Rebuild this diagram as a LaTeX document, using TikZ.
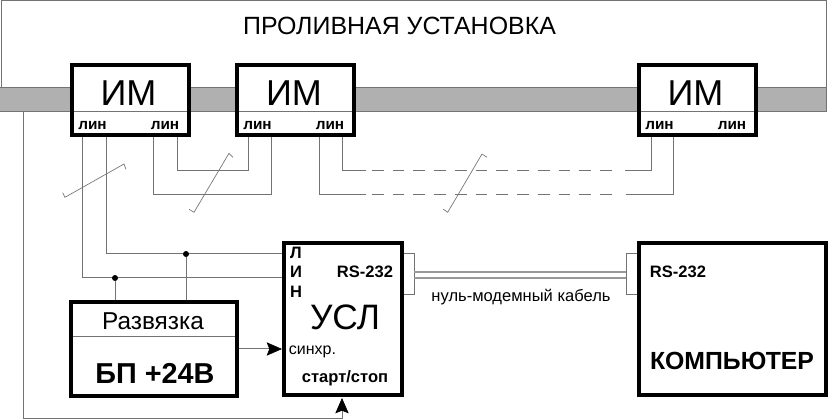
\documentclass[tikz,border=0pt]{standalone}
\usepackage{fontspec}
\setmainfont{Liberation Sans}
\usetikzlibrary{arrows.meta}
\definecolor{bandgray}{RGB}{176,176,176}
\definecolor{wiregray}{RGB}{115,115,115}
\tikzset{
  block/.style={draw=black,line width=3.2pt,fill=white,inner sep=0pt,anchor=north west},
  imblock/.style={block,minimum width=87.5pt,minimum height=52.3pt},
  wire/.style={draw=wiregray,line width=0.75pt},
  brokenwire/.style={wire,dash pattern=on 8.8pt off 6.75pt},
  cablewire/.style={draw=gray!80,line width=1pt},
  breakmark/.style={draw=wiregray,line width=0.5pt},
  divider/.style={wire,shorten >=3.2pt,shorten <=3.2pt},
  feed/.style={wire,-{Stealth[length=11.5pt,width=10pt,inset=2pt,color=black,fill=black,line width=0.5pt]}},
  jointdot/.style={circle,fill=black,inner sep=0pt,minimum size=4.5pt},
  txt/.style={inner sep=0pt,anchor=base},
  lin/.style={txt,font=\fontsize{11.5pt}{13pt}\selectfont\bfseries},
  small/.style={txt,font=\fontsize{12.4pt}{14pt}\selectfont\bfseries},
  im/.style={txt,font=\fontsize{27pt}{30pt}\selectfont},
}
\begin{document}
\begin{tikzpicture}[x=0.75pt,y=0.75pt,yscale=-1,xscale=1]
\useasboundingbox (0,0) rectangle (829,420);

%Shape: frame and band
\draw [wire] (1,112) -- (1,0.5) -- (826,0.5) -- (826,112);
\draw [wire,fill=bandgray] (0,88) -- (826,88) -- (826,112) -- (0,112);

% Title
\node (title) [txt,font=\fontsize{18.7pt}{20pt}\selectfont] at (399.5,35) {ПРОЛИВНАЯ УСТАНОВКА};

%Shape: blocks
\node (im1) [imblock] at (70,63) {};
\node (im2) [imblock] at (235,63) {};
\node (im3) [imblock] at (637,63) {};
\node (usl) [block,minimum width=88.3pt,minimum height=113.8pt] at (282,241) {};
\node (sync) [block,minimum width=124.3pt,minimum height=70.3pt] at (69,300) {};
\node (pc) [block,minimum width=140pt,minimum height=113.8pt] at (637,241) {};

%Shape: dividers inside blocks
\coordinate (bandlow) at (0,112);
\coordinate (synclow) at (0,337);
\draw [divider] (im1.west |- bandlow) -- (im1.east |- bandlow);
\draw [divider] (im2.west |- bandlow) -- (im2.east |- bandlow);
\draw [divider] (im3.west |- bandlow) -- (im3.east |- bandlow);
\draw [divider] (sync.west |- synclow) -- (sync.east |- synclow);

% Wire ends
\coordinate (im1a) at (82,137);
\coordinate (im1b) at (106,137);
\coordinate (im1c) at (153,137);
\coordinate (im1d) at (177,137);
\coordinate (im2a) at (248,137);
\coordinate (im2b) at (271,137);
\coordinate (im2c) at (319,137);
\coordinate (im2d) at (342,137);
\coordinate (im3a) at (651,137);
\coordinate (im3b) at (673,137);
\coordinate (usla) at (282,254);
\coordinate (uslb) at (282,278);
\coordinate (uslc) at (282,349);
\coordinate (usld) at (342,398);
\coordinate (syncout) at (239,349);
\coordinate (bandtap) at (23,112);
\coordinate (bottom) at (342,419);

%Shape: line wires
\draw [wire] (im1a) |- (uslb);
\draw [wire] (im1b) |- (usla);
\draw [wire] (im1d) -- (177,171) -| (im2a);
\draw [wire] (im1c) -- (153,195) -| (im2b);

%Shape: broken wires
\draw [wire] (im2d) |- (366,171);
\draw [brokenwire] (372,171) -- (613,171);
\draw [wire] (625,171) -| (im3a);
\draw [wire] (im2c) |- (366,195);
\draw [brokenwire] (372,195) -- (613,195);
\draw [wire] (626,195) -| (im3b);

%Shape: break marks
\draw [breakmark] (62.7,192.7) -- (65,197.3) -- (124,164) -- (126,169.3);
\draw [breakmark] (189,209.3) -- (194,212.3) -- (229,153.3) -- (233,157.3);
\draw [breakmark] (443.3,209.3) -- (447.7,212.3) -- (482,154) -- (487,157.3);

%Shape: joints
\node (jointa) [jointdot] at (115,278) {};
\node (jointb) [jointdot] at (186,254) {};
\draw [wire] (jointa) -- (jointa |- sync.north);
\draw [wire] (jointb) -- (jointb |- sync.north);

%Shape: arrows
\draw [feed] (syncout) -- (uslc);
\draw [feed] (bandtap) |- (bottom) -- (usld);

%Shape: RS-232 connectors and cable
\draw [wire] (usl.east |- 0,254) -- (414,254) -- (414,295) -- (usl.east |- 0,295);
\draw [wire] (pc.west |- 0,254) -- (626,254) -- (626,295) -- (pc.west |- 0,295);
\draw [cablewire] (414,272) -- (626,272);
\draw [cablewire] (414,278) -- (626,278);

% Text Node
\node (imtxta) [im] at (128.5,106) {ИМ};
\node (imtxtb) [im] at (294,106) {ИМ};
\node (imtxtc) [im] at (695.5,106) {ИМ};
\node (lina) [lin] at (92.5,130) {лин};
\node (linb) [lin] at (165,130) {лин};
\node (linc) [lin] at (257.5,130) {лин};
\node (lind) [lin] at (330,130) {лин};
\node (line) [lin] at (659.5,130) {лин};
\node (linf) [lin] at (732,130) {лин};
\node (uslL) [small] at (296,259) {Л};
\node (uslI) [small] at (296,278) {И};
\node (uslN) [small] at (296,298) {Н};
\node (rsa) [small] at (365,278) {RS-232};
\node (rsb) [small] at (678,278) {RS-232};
\node (usltxt) [txt,font=\fontsize{26.5pt}{30pt}\selectfont] at (345,329.5) {УСЛ};
\node (sinhr) [txt,font=\fontsize{12pt}{14pt}\selectfont] at (312.5,355) {синхр.};
\node (start) [small] at (345,383) {старт/стоп};
\node (razv) [txt,font=\fontsize{18.3pt}{20pt}\selectfont] at (153,330) {Развязка};
\node (bp) [txt,font=\fontsize{21.6pt}{24pt}\selectfont\bfseries] at (155,384) {БП +24В};
\node (cable) [txt,font=\fontsize{12.4pt}{14pt}\selectfont] at (521,302) {нуль-модемный кабель};
\node (pctxt) [txt,font=\fontsize{18.6pt}{20pt}\selectfont\bfseries] at (732,370) {КОМПЬЮТЕР};

\end{tikzpicture}
\end{document}
